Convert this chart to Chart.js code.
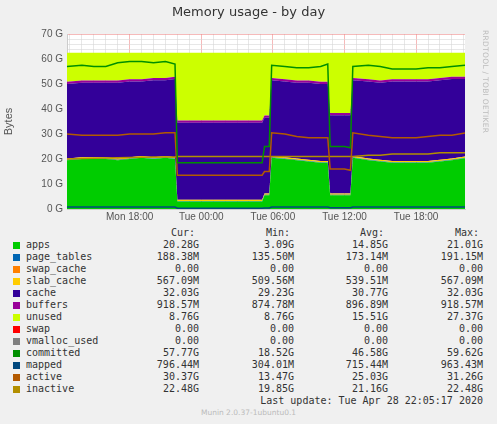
<!DOCTYPE html>
<html>
<head>
<meta charset="utf-8">
<script src="https://cdn.jsdelivr.net/npm/chart.js@4"></script>
<style>
  body { margin: 0; background: #f0f0f0; width: 497px; height: 424px; overflow: hidden; position: relative; font-family: "DejaVu Sans", sans-serif; }
  #title { position: absolute; top: 4px; left: 0; width: 497px; text-align: center; font-size: 13px; color: #333; }
  #wrap { position: absolute; left: 0; top: 1px; width: 497px; height: 225px; }
  #rrd { position: absolute; left: 481px; top: 30px; writing-mode: vertical-rl; font-size: 7.5px; color: #bbb; letter-spacing: 0.3px; }
  #legend { position: absolute; left: 0; top: 227px; font-family: "DejaVu Sans Mono", monospace; font-size: 10px; color: #333; }
  .row { position: absolute; height: 12px; white-space: pre; }
  .sw { position: absolute; left: 13px; width: 7px; height: 7px; top: 3px; }
  .nm { position: absolute; left: 26px; }
  .v { position: absolute; text-align: right; width: 90px; }
  #foot { position: absolute; left: 0; top: 408px; width: 497px; text-align: center; font-size: 7.5px; color: #bbb; }
</style>
</head>
<body>
<div id="wrap"><canvas id="memChart"></canvas></div>
<div id="title">Memory usage - by day</div>
<div id="rrd">RRDTOOL / TOBI OETIKER</div>
<div id="legend"></div>
<div id="foot">Munin 2.0.37-1ubuntu0.1</div>
<script>
// hours since Mon 00:00
const hours = [12.75,14,15,16,17,18,19,20,21,21.8, 22.0,24,26,28,29.1, 29.3,29.7, 29.9,31,32,33,34,34.6, 34.8,36,36.5, 36.7,38,39,40,41,42,43,44,45,46.1];
const apps = [19.5,20,20,20,19.5,20,20.5,20,20.5,20, 3,3,3,3,3, 5.5,5.5, 20.5,20,19.5,19,18.5,18.5, 5.5,5.5,5.5, 20.5,19.5,19,18.5,18.5,18.5,18.5,19,19.5,20.3];
const pageTables = hours.map(() => 0.19);
const swapCache = hours.map(() => 0);
const slabCache = hours.map(() => 0.55);
const cache = [29.8,29.8,29.8,29.8,30.3,30.3,29.8,30.8,30.3,31.3, 30.8,30.8,30.8,30.8,30.8, 30.3,30.3, 30.3,30.3,30.3,30.8,30.8,30.8, 31.3,31.3,31.3, 30.3,30.8,30.8,31.8,31.8,31.8,31.8,31.8,31.8,31.0];
const buffers = hours.map(() => 0.9);
const totalMem = 62.5;
const committed = [57,57.5,57,57,58.5,59,59,58.5,59,58, 18.5,18.5,18.5,18.5,18.5, 25,25, 57.5,57,56.5,56.5,57,58, 25,25,24.5, 57,57.5,57,56,56,56,56.5,56.5,57,57.5];
const mapped = [0.8,0.8,0.8,0.8,0.8,0.8,0.8,0.8,0.8,0.8, 0.3,0.3,0.3,0.3,0.3, 0.4,0.4, 0.8,0.8,0.8,0.8,0.8,0.8, 0.5,0.5,0.5, 0.8,0.8,0.8,0.8,0.8,0.8,0.8,0.8,0.8,0.8];
const active = [30,29.5,29.5,29.5,29.5,30,30,30,30.5,30.5, 13.5,13.5,13.5,13.5,13.5, 15,15, 30.5,30,29,28.5,28.5,28.5, 16,16,15.5, 30.5,29.5,29,28.5,28.5,28.5,29,29.5,29.5,30.4];
const inactive = [20,20.2,20.3,20.4,20.5,20.6,20.7,20.8,20.8,20.8, 21,21,21,21,21, 21,21, 21,21,21,21,21,21, 21,21,21, 21,21.5,21.5,22,22,22,22,22.5,22.5,22.5];
const unused = hours.map((h, i) => totalMem - apps[i] - pageTables[i] - swapCache[i] - slabCache[i] - cache[i] - buffers[i]);

const tickLabels = { 18: 'Mon 18:00', 24: 'Tue 00:00', 30: 'Tue 06:00', 36: 'Tue 12:00', 42: 'Tue 18:00' };

const legendRows = [
  ['apps', '#00cc00', '20.28G', '3.09G', '14.85G', '21.01G'],
  ['page_tables', '#0066b3', '188.38M', '135.50M', '173.14M', '191.15M'],
  ['swap_cache', '#ff8000', '0.00', '0.00', '0.00', '0.00'],
  ['slab_cache', '#ffcc00', '567.09M', '509.56M', '539.51M', '567.09M'],
  ['cache', '#330099', '32.03G', '29.23G', '30.77G', '32.03G'],
  ['buffers', '#990099', '918.57M', '874.78M', '896.89M', '918.57M'],
  ['unused', '#ccff00', '8.76G', '8.76G', '15.51G', '27.37G'],
  ['swap', '#ff0000', '0.00', '0.00', '0.00', '0.00'],
  ['vmalloc_used', '#808080', '0.00', '0.00', '0.00', '0.00'],
  ['committed', '#008f00', '57.77G', '18.52G', '46.58G', '59.62G'],
  ['mapped', '#00487d', '796.44M', '304.01M', '715.44M', '963.43M'],
  ['active', '#b35a00', '30.37G', '13.47G', '25.03G', '31.26G'],
  ['inactive', '#b38f00', '22.48G', '19.85G', '21.16G', '22.48G']
];

const lg = document.getElementById('legend');
const colX = [109, 204, 298, 393];
let html = '<div class="row" style="top:0;left:0;width:497px">';
['Cur:', 'Min:', 'Avg:', 'Max:'].forEach((h, j) => { html += `<span class="v" style="left:${colX[j] - 4}px">${h}</span>`; });
html += '</div>';
legendRows.forEach((r, i) => {
  html += `<div class="row" style="top:${12 + i * 12}px;left:0;width:497px"><span class="sw" style="background:${r[1]}"></span><span class="nm">${r[0]}</span>`;
  for (let j = 0; j < 4; j++) html += `<span class="v" style="left:${colX[j]}px">${r[j + 2]}</span>`;
  html += '</div>';
});
html += `<div class="row" style="top:${12 + 13 * 12}px;left:0;width:483px;text-align:right">Last update: Tue Apr 28 22:05:17 2020</div>`;
lg.innerHTML = html;

const pts = arr => arr.map((v, i) => ({ x: hours[i], y: v }));
const area = (label, data, color, fill) => ({ label, data: pts(data), backgroundColor: color, borderColor: color, borderWidth: 0, fill, stack: 'mem', pointRadius: 0, tension: 0 });
const line = (label, data, color) => ({ label, data: pts(data), borderColor: color, borderWidth: 1.5, fill: false, stack: 'l_' + label, pointRadius: 0, tension: 0 });

const plotBg = {
  id: 'plotBg',
  beforeDraw(c) {
    const a = c.chartArea, ctx = c.ctx;
    ctx.save(); ctx.fillStyle = '#ffffff'; ctx.fillRect(a.left, a.top, a.right - a.left, a.bottom - a.top); ctx.restore();
  }
};

new Chart(document.getElementById('memChart'), {
  type: 'line',
  data: {
    datasets: [
      line('committed', committed, '#008f00'),
      line('mapped', mapped, '#00487d'),
      line('active', active, '#b35a00'),
      line('inactive', inactive, '#b38f00'),
      area('apps', apps, '#00cc00', 'origin'),
      area('page_tables', pageTables, '#0066b3', '-1'),
      area('swap_cache', swapCache, '#ff8000', '-1'),
      area('slab_cache', slabCache, '#ffcc00', '-1'),
      area('cache', cache, '#330099', '-1'),
      area('buffers', buffers, '#990099', '-1'),
      area('unused', unused, '#ccff00', '-1')
    ]
  },
  options: {
    responsive: true, maintainAspectRatio: false, animation: false,
    layout: { padding: { top: 33, right: 32, left: 0, bottom: 0 } },
    plugins: { legend: { display: false }, tooltip: { enabled: false } },
    scales: {
      x: {
        type: 'linear', min: 12.75, max: 46.1,
        afterBuildTicks: ax => { const t = []; for (let h = 13; h <= 46; h++) t.push({ value: h }); ax.ticks = t; },
        afterFit: ax => { ax.height = 17; },
        ticks: { autoSkip: false, maxRotation: 0, color: '#555', font: { size: 10 }, padding: 2, callback: v => tickLabels[v] || '' },
        grid: {
          color: c => (c.tick && c.tick.value % 6 === 0) ? 'rgba(240,140,140,0.6)' : 'rgba(215,215,215,0.6)',
          borderDash: [1, 2], drawTicks: false
        },
        border: { display: true, color: '#ccc' }
      },
      y: {
        stacked: true, min: 0, max: 70,
        afterBuildTicks: ax => { const t = []; for (let v = 0; v <= 70; v += 2) t.push({ value: v }); ax.ticks = t; },
        afterFit: ax => { ax.width = 67; },
        ticks: { autoSkip: false, color: '#555', font: { size: 10 }, padding: 4, callback: v => v % 10 === 0 ? v + ' G' : '' },
        grid: {
          color: c => (c.tick && c.tick.value % 10 === 0 && c.tick.value > 0) ? 'rgba(240,140,140,0.6)' : 'rgba(215,215,215,0.6)',
          borderDash: [1, 2], drawTicks: false
        },
        border: { display: true, color: '#ccc' },
        title: { display: true, text: 'Bytes', color: '#555', font: { size: 11 }, padding: 2 }
      }
    }
  },
  plugins: [plotBg]
});
</script>
</body>
</html>
